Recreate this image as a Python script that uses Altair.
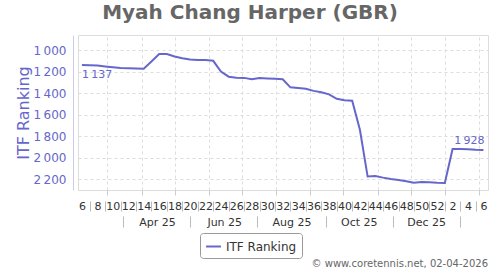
import altair as alt
import pandas as pd

# ---------------- data ----------------
title_text = "Myah Chang Harper (GBR)"
series_name = "ITF Ranking"
credit_text = "\u00a9 www.coretennis.net, 02-04-2026"

first_week_date = "2025-02-06"
week_numbers = [6, 7, 8, 9, 10, 11, 12, 13, 14, 15, 16, 17, 18, 19, 20, 21, 22,
                23, 24, 25, 26, 27, 28, 29, 30, 31, 32, 33, 34, 35, 36, 37, 38,
                39, 40, 41, 42, 43, 44, 45, 46, 47, 48, 49, 50, 51, 52,
                1, 2, 3, 4, 5, 6]
ranks = [1137, 1139, 1141, 1150, 1158, 1166, 1168, 1170, 1172, 1105,
         1035, 1035, 1058, 1075, 1086, 1090, 1091, 1098, 1198, 1246,
         1255, 1257, 1270, 1258, 1262, 1266, 1270, 1345, 1352, 1358,
         1378, 1390, 1410, 1452, 1465, 1470, 1740, 2175, 2170, 2185,
         2198, 2208, 2218, 2232, 2226, 2228, 2232, 2234, 1918, 1918,
         1922, 1926, 1928]
month_starts = ["2025-03-01", "2025-04-01", "2025-05-01", "2025-06-01",
                "2025-07-01", "2025-08-01", "2025-09-01", "2025-10-01",
                "2025-11-01", "2025-12-01", "2026-01-01", "2026-02-01"]
month_label_dates = ["2025-04-15", "2025-06-15", "2025-08-15",
                     "2025-10-15", "2025-12-15"]
month_labels = ["Apr 25", "Jun 25", "Aug 25", "Oct 25", "Dec 25"]
month_sep_dates = ["2025-03-15", "2025-05-15", "2025-07-15",
                   "2025-09-15", "2025-11-15", "2026-01-15"]
y_ticks = [1000, 1200, 1400, 1600, 1800, 2000, 2200]
x_domain = ["2025-02-02 10:00", "2026-02-09 03:00"]
y_domain = [858, 2300]


def ms(s):
    return int(pd.Timestamp(s, tz="UTC").value // 10**6)


week_ts = [int(t.value // 10**6) for t in
           pd.date_range(first_week_date, periods=len(ranks), freq="7D", tz="UTC")]
week_labels = [str(w) if w % 2 == 0 else "" for w in week_numbers]

df = pd.DataFrame({"t": week_ts, "rank": ranks, "series": series_name})
df_first = df.iloc[[0]]
df_last = df.iloc[[-1]]

PURPLE = "#6666cc"
FONT = "DejaVu Sans"
W, H = 410, 155

xscale = alt.Scale(type="utc", domain=[ms(x_domain[0]), ms(x_domain[1])], nice=False)

label_expr_num = "replace(format(datum.value, ','), ',', '\u2009')"

y_enc = alt.Y(
    "rank:Q",
    scale=alt.Scale(reverse=True, domain=y_domain, nice=False, zero=False),
    axis=alt.Axis(
        values=y_ticks, title=series_name, titleColor=PURPLE, titleFont=FONT,
        titleFontSize=16, titleFontWeight="normal", titlePadding=2,
        labelColor=PURPLE, labelFont=FONT, labelFontSize=12, labelPadding=7,
        labelExpr=label_expr_num, ticks=False, tickSize=0, offset=5,
        domainColor="#ccccee", grid=True, gridColor="#dddddd",
        gridDash=[3, 3], orient="left",
    ),
)

week_expr = f"{week_labels}[round((toNumber(datum.value) - {week_ts[0]}) / 604800000)]"
month_ts = [ms(d) for d in month_label_dates]
month_expr = f"{month_labels}[indexof({month_ts}, toNumber(datum.value))]"

# line with month grid
line = alt.Chart(df).mark_line(strokeWidth=2).encode(
    x=alt.X("t:T", scale=xscale, axis=alt.Axis(
        orient="bottom", values=[ms(d) for d in month_starts], labels=False,
        title=None, grid=True, gridColor="#dddddd", gridDash=[3, 3],
        ticks=True, tickSize=5, tickColor="#cccccc", domain=False)),
    y=y_enc,
    color=alt.Color("series:N", scale=alt.Scale(range=[PURPLE]), legend=alt.Legend(
        orient="none", legendX=122, legendY=198, title=None,
        symbolType="stroke", symbolStrokeWidth=2, symbolSize=220,
        labelFontSize=12, labelColor="#333333", labelFont=FONT,
        strokeColor="#999999", padding=5, cornerRadius=3, fillColor="white")),
)

first_txt = alt.Chart(df_first).mark_text(
    align="left", baseline="middle", dy=10, fontSize=11, color=PURPLE, font=FONT
).transform_calculate(
    lab="replace(format(datum.rank, ','), ',', '\u2009')"
).encode(
    x=alt.X("t:T", scale=xscale, axis=alt.Axis(
        orient="bottom", values=week_ts, labelExpr=week_expr, title=None,
        ticks=False, tickSize=0, domain=False, grid=False,
        labelPadding=16, labelBaseline="middle", labelFontSize=11,
        labelColor="#333333", labelFont=FONT, labelOverlap=False,
        labelFlush=False, labelBound=False)),
    y=y_enc,
    text="lab:N",
)

last_txt = alt.Chart(df_last).mark_text(
    align="right", baseline="middle", dy=-9, dx=1, fontSize=11, color=PURPLE, font=FONT
).transform_calculate(
    lab="replace(format(datum.rank, ','), ',', '\u2009')"
).encode(
    x=alt.X("t:T", scale=xscale, axis=alt.Axis(
        orient="bottom", values=[t for t, w in zip(week_ts, week_numbers) if w % 2 == 1],
        labels=False, title=None, ticks=True, tickSize=10, tickColor="#bbbbbb",
        offset=11, domain=False, grid=False)),
    y=y_enc,
    text="lab:N",
)

month_lab_layer = alt.Chart(df).mark_point(opacity=0).encode(
    x=alt.X("t:T", scale=xscale, axis=alt.Axis(
        orient="bottom", values=month_ts, labelExpr=month_expr, title=None,
        ticks=False, tickSize=0, domain=False, grid=False,
        labelPadding=32, labelBaseline="middle", labelFontSize=11,
        labelColor="#333333", labelFont=FONT, labelOverlap=False,
        labelFlush=False, labelBound=False)),
    y=y_enc,
)

month_sep_layer = alt.Chart(df).mark_point(opacity=0).encode(
    x=alt.X("t:T", scale=xscale, axis=alt.Axis(
        orient="bottom", values=[ms(d) for d in month_sep_dates], labels=False,
        title=None, ticks=True, tickSize=11, tickColor="#bbbbbb", offset=26,
        domain=False, grid=False)),
    y=y_enc,
)

credit = alt.Chart(pd.DataFrame({"txt": [credit_text]})).mark_text(
    align="right", baseline="middle", fontSize=10, color="#666666", font=FONT
).encode(x=alt.value(W), y=alt.value(H + 74), text="txt:N")

title_mark = alt.Chart(pd.DataFrame({"txt": [title_text]})).mark_text(
    align="center", baseline="alphabetic", fontSize=20, fontWeight="bold",
    color="#666666", font=FONT
).encode(x=alt.value(172), y=alt.value(-16), text="txt:N")

chart = alt.layer(
    line, first_txt, last_txt, month_lab_layer, month_sep_layer, credit, title_mark
).resolve_axis(x="independent").properties(
    width=W, height=H,
    autosize="none",
    padding={"left": 78, "top": 35, "right": 12, "bottom": 80},
).configure_view(
    stroke="#888888", strokeWidth=1.5, fill="#fafafa"
).configure(background="white")

chart.save("out.html", embed_options={"renderer": "svg", "actions": False})
